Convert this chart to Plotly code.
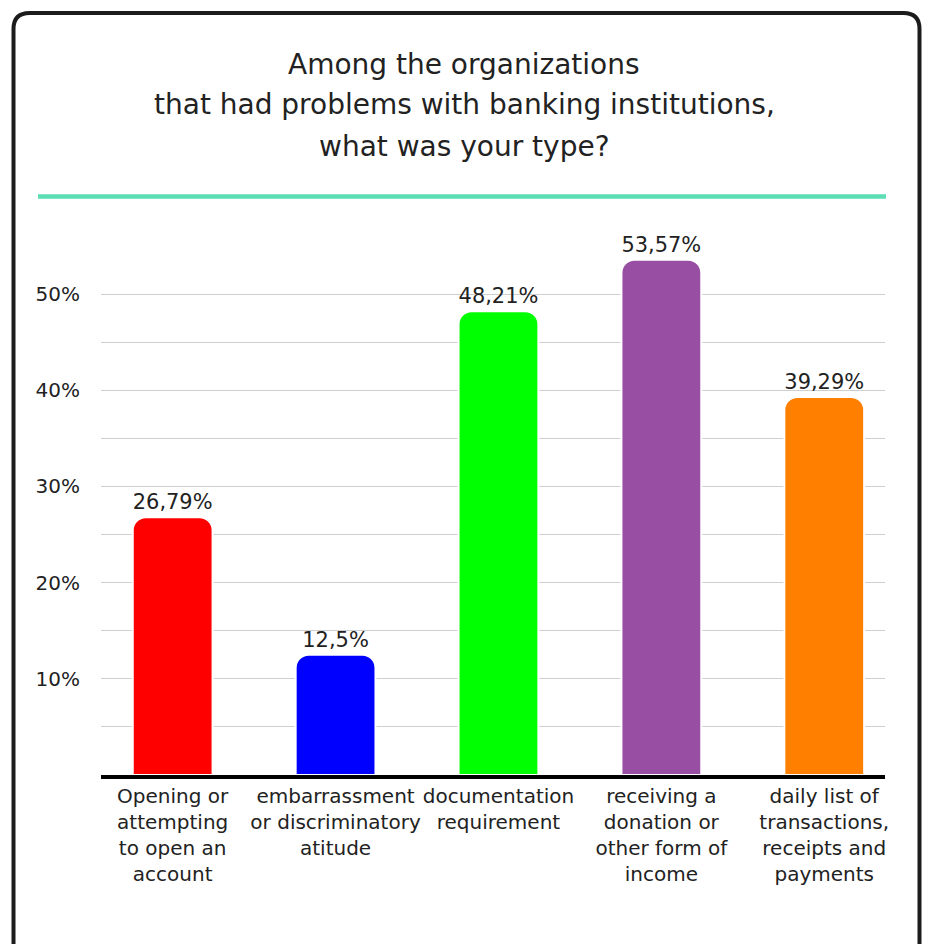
import plotly.graph_objects as go

# Survey data
categories = [
    "Opening or<br>attempting<br>to open an<br>account",
    "embarrassment<br>or discriminatory<br>atitude",
    "documentation<br>requirement",
    "receiving a<br>donation or<br>other form of<br>income",
    "daily list of<br>transactions,<br>receipts and<br>payments",
]
values = [26.79, 12.5, 48.21, 53.57, 39.29]
bar_colors = ["#ff0000", "#0000ff", "#00ff00", "#984ea3", "#ff7f00"]
tick_values = [10, 20, 30, 40, 50]
tick_labels = ["10%", "20%", "30%", "40%", "50%"]
title_lines = [
    "Among the organizations",
    "that had problems with banking institutions,",
    "what was your type?",
]

W, H = 928, 944
ML, MR, MT, MB = 101, 43, 246, 169
PW, PH = W - ML - MR, H - MT - MB
FONT = "DejaVu Sans"
INK = "#222222"


def px(x):
    return (x - ML) / PW


def py(y):
    return (H - MB - y) / PH


labels = [f"{str(v).replace('.', ',')}%" for v in values]

fig = go.Figure(
    go.Bar(
        x=categories,
        y=values,
        marker=dict(color=bar_colors, line=dict(width=2, color="white")),
        width=0.49,
        text=labels,
        texttemplate="%{text}",
        textposition="outside",
        textfont=dict(family=FONT, size=21, color=INK),
        cliponaxis=False,
        hoverinfo="skip",
    )
)

# Card outline with rounded corners (bottom edge runs off the page)
x0, x1, y0, y1, r = 13.5, 919.5, 13, 980, 16
card = (
    f"M {px(x0)},{py(y0 + r)} "
    f"Q {px(x0)},{py(y0)} {px(x0 + r)},{py(y0)} "
    f"L {px(x1 - r)},{py(y0)} "
    f"Q {px(x1)},{py(y0)} {px(x1)},{py(y0 + r)} "
    f"L {px(x1)},{py(y1 - r)} "
    f"Q {px(x1)},{py(y1)} {px(x1 - r)},{py(y1)} "
    f"L {px(x0 + r)},{py(y1)} "
    f"Q {px(x0)},{py(y1)} {px(x0)},{py(y1 - r)} Z"
)
fig.add_shape(type="path", path=card, xref="paper", yref="paper",
              line=dict(color="#1c1c1c", width=4), layer="below")

# Accent rule under the title
fig.add_shape(type="line", xref="paper", yref="paper",
              x0=px(38), x1=px(886), y0=py(196.5), y1=py(196.5),
              line=dict(color="#5cdeb4", width=4.5))

# Title, one annotation per line
for line, yc in zip(title_lines, [64, 104, 146]):
    fig.add_annotation(text=line, xref="paper", yref="paper",
                       x=px(464), y=py(yc), xanchor="center", yanchor="middle",
                       showarrow=False,
                       font=dict(family=FONT, size=28, color=INK))

fig.update_layout(
    width=W, height=H, autosize=False,
    margin=dict(l=ML, r=MR, t=MT, b=MB, autoexpand=False),
    paper_bgcolor="white", plot_bgcolor="white",
    showlegend=False,
    barcornerradius=13,
    font=dict(family=FONT, color=INK),
)

fig.update_xaxes(
    type="category",
    range=[-0.44, 4.373],
    showgrid=False,
    showline=True, linecolor="#000000", linewidth=4,
    ticks="",
    tickangle=0,
    automargin=False,
    tickfont=dict(family=FONT, size=20, color=INK),
    fixedrange=True,
)

fig.update_yaxes(
    range=[0, 55],
    tickmode="array",
    tickvals=tick_values,
    ticktext=tick_labels,
    tickfont=dict(family=FONT, size=20, color=INK),
    ticklabelstandoff=20,
    automargin=False,
    showgrid=True, gridcolor="#cfcfcf", gridwidth=1.3,
    minor=dict(tickmode="linear", tick0=5, dtick=10, showgrid=True,
               gridcolor="#cfcfcf", gridwidth=1.3),
    zeroline=False,
    showline=False,
    fixedrange=True,
)

fig.write_html("out.html")
